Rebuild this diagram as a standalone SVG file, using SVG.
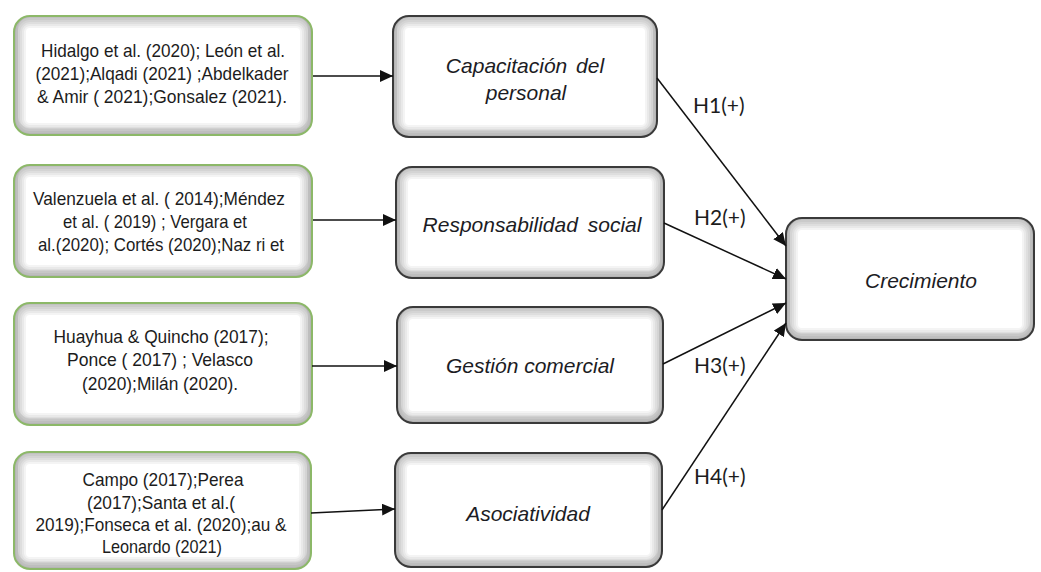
<svg xmlns="http://www.w3.org/2000/svg" width="1041" height="572" viewBox="0 0 1041 572">
<defs>
  <rect id="r1" x="14" y="16" width="298" height="119" rx="16"/>
  <rect id="r2" x="14" y="165" width="298" height="112" rx="16"/>
  <rect id="r3" x="14" y="303" width="298" height="122" rx="16"/>
  <rect id="r4" x="14" y="452" width="297" height="117" rx="16"/>
  <rect id="r5" x="393" y="16" width="264" height="121" rx="16"/>
  <rect id="r6" x="396" y="167" width="268" height="111" rx="16"/>
  <rect id="r7" x="397" y="307" width="266" height="116" rx="16"/>
  <rect id="r8" x="395" y="453" width="267" height="114" rx="16"/>
  <rect id="r9" x="786" y="218" width="248" height="122" rx="16"/>
  <clipPath id="c1"><use href="#r1"/></clipPath>
  <clipPath id="c2"><use href="#r2"/></clipPath>
  <clipPath id="c3"><use href="#r3"/></clipPath>
  <clipPath id="c4"><use href="#r4"/></clipPath>
  <clipPath id="c5"><use href="#r5"/></clipPath>
  <clipPath id="c6"><use href="#r6"/></clipPath>
  <clipPath id="c7"><use href="#r7"/></clipPath>
  <clipPath id="c8"><use href="#r8"/></clipPath>
  <clipPath id="c9"><use href="#r9"/></clipPath>
  <marker id="arr" markerUnits="userSpaceOnUse" markerWidth="14" markerHeight="12" refX="13" refY="6" orient="auto">
    <path d="M0,0 L13,6 L0,12 z" fill="#111"/>
  </marker>
  <style>
    .bg{fill:#fff;stroke:none}
    .s1,.s2,.s3,.s4,.s5,.s6,.sb{fill:none;stroke:#000;stroke-opacity:.045}
    .s1{stroke-width:24}
    .s2{stroke-width:20}
    .s3{stroke-width:16}
    .s4{stroke-width:12}
    .s5{stroke-width:8}
    .s6{stroke-width:4}
    .sb{stroke-width:8;stroke-opacity:.06}
    .src{fill:none;stroke:#8cb868;stroke-width:2}
    .var{fill:none;stroke:#3a3a3a;stroke-width:2}
    .ref{font-family:"Liberation Sans",Arial,sans-serif;font-size:18.5px;fill:#1c1c1c;text-anchor:middle}
    .lbl{font-family:"Liberation Sans",Arial,sans-serif;font-size:21px;font-style:italic;fill:#1c1c24;text-anchor:middle}
    .h{font-family:Lato,"Open Sans",sans-serif;font-size:21px;fill:#1c1c1c}
    .conn{stroke:#111;stroke-width:1.5;fill:none;marker-end:url(#arr)}
  </style>
</defs>
<rect width="1041" height="572" fill="#fff"/>

<g id="src1">
  <use href="#r1" class="bg"/>
  <g clip-path="url(#c1)"><use href="#r1" class="s1"/><use href="#r1" class="s2"/><use href="#r1" class="s3"/><use href="#r1" class="s4"/><use href="#r1" class="s5"/><use href="#r1" class="s6"/><use href="#r1" class="sb" transform="translate(0,-3)"/></g>
  <use href="#r1" class="src"/>
  <text class="ref" x="163" y="57" textLength="244" lengthAdjust="spacingAndGlyphs">Hidalgo et al. (2020); León et al.</text>
  <text class="ref" x="162" y="80" textLength="253" lengthAdjust="spacingAndGlyphs">(2021);Alqadi (2021) ;Abdelkader</text>
  <text class="ref" x="162" y="103" textLength="250" lengthAdjust="spacingAndGlyphs">&amp; Amir ( 2021);Gonsalez (2021).</text>
</g>
<g id="src2">
  <use href="#r2" class="bg"/>
  <g clip-path="url(#c2)"><use href="#r2" class="s1"/><use href="#r2" class="s2"/><use href="#r2" class="s3"/><use href="#r2" class="s4"/><use href="#r2" class="s5"/><use href="#r2" class="s6"/><use href="#r2" class="sb" transform="translate(0,-3)"/></g>
  <use href="#r2" class="src"/>
  <text class="ref" x="159" y="205" textLength="252" lengthAdjust="spacingAndGlyphs">Valenzuela et al. ( 2014);Méndez</text>
  <text class="ref" x="155" y="228" textLength="184" lengthAdjust="spacingAndGlyphs">et al. ( 2019) ; Vergara et</text>
  <text class="ref" x="161" y="251" textLength="246" lengthAdjust="spacingAndGlyphs">al.(2020); Cortés (2020);Naz ri et</text>
</g>
<g id="src3">
  <use href="#r3" class="bg"/>
  <g clip-path="url(#c3)"><use href="#r3" class="s1"/><use href="#r3" class="s2"/><use href="#r3" class="s3"/><use href="#r3" class="s4"/><use href="#r3" class="s5"/><use href="#r3" class="s6"/><use href="#r3" class="sb" transform="translate(0,-3)"/></g>
  <use href="#r3" class="src"/>
  <text class="ref" x="161" y="343" textLength="215" lengthAdjust="spacingAndGlyphs">Huayhua &amp; Quincho (2017);</text>
  <text class="ref" x="160" y="366" textLength="186" lengthAdjust="spacingAndGlyphs">Ponce ( 2017) ; Velasco</text>
  <text class="ref" x="160" y="390" textLength="156" lengthAdjust="spacingAndGlyphs">(2020);Milán (2020).</text>
</g>
<g id="src4">
  <use href="#r4" class="bg"/>
  <g clip-path="url(#c4)"><use href="#r4" class="s1"/><use href="#r4" class="s2"/><use href="#r4" class="s3"/><use href="#r4" class="s4"/><use href="#r4" class="s5"/><use href="#r4" class="s6"/><use href="#r4" class="sb" transform="translate(0,-3)"/></g>
  <use href="#r4" class="src"/>
  <text class="ref" x="163" y="486" textLength="161" lengthAdjust="spacingAndGlyphs">Campo (2017);Perea</text>
  <text class="ref" x="161" y="509" textLength="148" lengthAdjust="spacingAndGlyphs">(2017);Santa et al.(</text>
  <text class="ref" x="161" y="531" textLength="251" lengthAdjust="spacingAndGlyphs">2019);Fonseca et al. (2020);au &amp;</text>
  <text class="ref" x="162" y="553" textLength="120" lengthAdjust="spacingAndGlyphs">Leonardo (2021)</text>
</g>

<g id="capacitacion">
  <use href="#r5" class="bg"/>
  <g clip-path="url(#c5)"><use href="#r5" class="s1"/><use href="#r5" class="s2"/><use href="#r5" class="s3"/><use href="#r5" class="s4"/><use href="#r5" class="s5"/><use href="#r5" class="s6"/><use href="#r5" class="sb" transform="translate(0,-3)"/></g>
  <use href="#r5" class="var"/>
  <text class="lbl" x="525" y="73" word-spacing="3">Capacitación del</text>
  <text class="lbl" x="526" y="100">personal</text>
</g>
<g id="responsabilidad">
  <use href="#r6" class="bg"/>
  <g clip-path="url(#c6)"><use href="#r6" class="s1"/><use href="#r6" class="s2"/><use href="#r6" class="s3"/><use href="#r6" class="s4"/><use href="#r6" class="s5"/><use href="#r6" class="s6"/><use href="#r6" class="sb" transform="translate(0,-3)"/></g>
  <use href="#r6" class="var"/>
  <text class="lbl" x="532" y="232" word-spacing="4">Responsabilidad social</text>
</g>
<g id="gestion">
  <use href="#r7" class="bg"/>
  <g clip-path="url(#c7)"><use href="#r7" class="s1"/><use href="#r7" class="s2"/><use href="#r7" class="s3"/><use href="#r7" class="s4"/><use href="#r7" class="s5"/><use href="#r7" class="s6"/><use href="#r7" class="sb" transform="translate(0,-3)"/></g>
  <use href="#r7" class="var"/>
  <text class="lbl" x="530" y="373">Gestión comercial</text>
</g>
<g id="asociatividad">
  <use href="#r8" class="bg"/>
  <g clip-path="url(#c8)"><use href="#r8" class="s1"/><use href="#r8" class="s2"/><use href="#r8" class="s3"/><use href="#r8" class="s4"/><use href="#r8" class="s5"/><use href="#r8" class="s6"/><use href="#r8" class="sb" transform="translate(0,-3)"/></g>
  <use href="#r8" class="var"/>
  <text class="lbl" x="528" y="521">Asociatividad</text>
</g>
<g id="crecimiento">
  <use href="#r9" class="bg"/>
  <g clip-path="url(#c9)"><use href="#r9" class="s1"/><use href="#r9" class="s2"/><use href="#r9" class="s3"/><use href="#r9" class="s4"/><use href="#r9" class="s5"/><use href="#r9" class="s6"/><use href="#r9" class="sb" transform="translate(0,-3)"/></g>
  <use href="#r9" class="var"/>
  <text class="lbl" x="921" y="288">Crecimiento</text>
</g>

<g id="connectors">
  <path class="conn" d="M313,76 L393,76"/>
  <path class="conn" d="M313,220 L396,220"/>
  <path class="conn" d="M312,366 L397,366"/>
  <path class="conn" d="M311,513 L395,509"/>
  <path class="conn" d="M657,78 L786,246"/>
  <path class="conn" d="M664,223 L786,279"/>
  <path class="conn" d="M663,364 L786,303"/>
  <path class="conn" d="M662,510 L786,323"/>
</g>

<g id="labels">
  <text class="h" x="693" y="113">H1(+)</text>
  <text class="h" x="694" y="225">H2(+)</text>
  <text class="h" x="694" y="373">H3(+)</text>
  <text class="h" x="694" y="484">H4(+)</text>
</g>
</svg>
